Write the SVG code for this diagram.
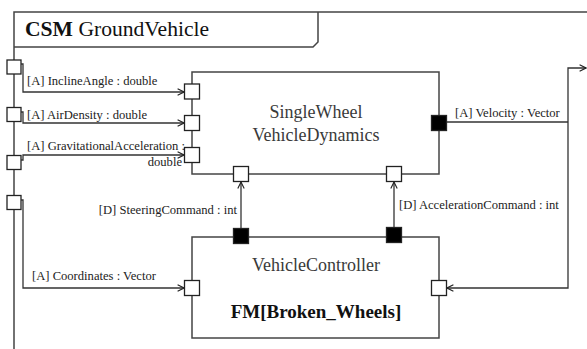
<svg xmlns="http://www.w3.org/2000/svg" width="587" height="349" viewBox="0 0 587 349" font-family="Liberation Serif">
  <defs>
    <marker id="open" viewBox="0 0 10 10" refX="9" refY="5" markerWidth="8" markerHeight="8" markerUnits="userSpaceOnUse" orient="auto">
      <path d="M1,1 L9,5 L1,9" fill="none" stroke="#222" stroke-width="1.4"/>
    </marker>
  </defs>
  <style>
    .frame { fill: none; stroke: #444; stroke-width: 1.5; }
    .box { fill: #fff; stroke: #444; stroke-width: 1.5; }
    .port { fill: #fff; stroke: #222; stroke-width: 1.3; }
    .port.out { fill: #000; }
    .wire { fill: none; stroke: #333; stroke-width: 1.3; }
    .lbl { font-size: 12.6px; fill: #222; }
    .name { font-size: 18px; fill: #3a3a3a; text-anchor: middle; }
    .fm { font-size: 19px; font-weight: bold; fill: #111; text-anchor: middle; }
    .title { font-size: 21.6px; fill: #111; }
  </style>
  <rect width="587" height="349" fill="#fff"/>

  <!-- CSM frame with name tab -->
  <g id="frame" font-family="Liberation Serif">
    <path class="frame" d="M14,349 V12 H587"/>
    <path class="frame" d="M14,47 H313 L318,42 V12"/>
    <text class="title" x="25" y="36"><tspan font-weight="bold">CSM</tspan> GroundVehicle</text>
    <rect class="port" x="7" y="60" width="14" height="14"/>
    <rect class="port" x="7" y="107.5" width="14" height="14"/>
    <rect class="port" x="7" y="155.5" width="14" height="14"/>
    <rect class="port" x="7" y="195.5" width="14" height="14"/>
  </g>

  <!-- connectors -->
  <g id="connectors" font-family="Liberation Serif">
    <path class="wire" d="M21,64 H23 V92 H184" marker-end="url(#open)"/>
    <path class="wire" d="M21,112 H23 V123 H184" marker-end="url(#open)"/>
    <path class="wire" d="M21,160 H23 V155 H184" marker-end="url(#open)"/>
    <path class="wire" d="M21,200 H23 V288 H184" marker-end="url(#open)"/>
    <path class="wire" d="M241,228 V182" marker-end="url(#open)"/>
    <path class="wire" d="M394,228 V182" marker-end="url(#open)"/>
    <path class="wire" d="M447,122 H568"/>
    <path class="wire" d="M568,122 V68 H586" marker-end="url(#open)"/>
    <path class="wire" d="M568,122 V288 H447" marker-end="url(#open)"/>

    <text class="lbl" x="27" y="85">[A] InclineAngle : double</text>
    <text class="lbl" x="27" y="119">[A] AirDensity : double</text>
    <text class="lbl" x="27" y="150">[A] GravitationalAcceleration :</text>
    <text class="lbl" x="182" y="166" text-anchor="end">double</text>
    <text class="lbl" x="32" y="280">[A] Coordinates : Vector</text>
    <text class="lbl" x="237" y="214" text-anchor="end">[D] SteeringCommand : int</text>
    <text class="lbl" x="399" y="209">[D] AccelerationCommand : int</text>
    <text class="lbl" x="455" y="117">[A] Velocity : Vector</text>
  </g>

  <!-- SingleWheel VehicleDynamics block -->
  <g id="dynamics" font-family="Liberation Serif">
    <rect class="box" x="192" y="72" width="247" height="102"/>
    <text class="name" x="316" y="118">SingleWheel</text>
    <text class="name" x="316" y="141">VehicleDynamics</text>
    <rect class="port" x="184.5" y="84" width="15" height="15"/>
    <rect class="port" x="184.5" y="115.5" width="15" height="15"/>
    <rect class="port" x="184.5" y="147.5" width="15" height="15"/>
    <rect class="port" x="233.5" y="166.5" width="15" height="15"/>
    <rect class="port" x="386.5" y="166.5" width="15" height="15"/>
    <rect class="port out" x="431.5" y="115.5" width="15" height="15"/>
  </g>

  <!-- VehicleController block -->
  <g id="controller" font-family="Liberation Serif">
    <rect class="box" x="192" y="237" width="247" height="101"/>
    <text class="name" x="316" y="271">VehicleController</text>
    <text class="fm" x="316" y="318">FM[Broken_Wheels]</text>
    <rect class="port" x="184.5" y="280.5" width="15" height="15"/>
    <rect class="port" x="431.5" y="280.5" width="15" height="15"/>
    <rect class="port out" x="233.5" y="228.5" width="15" height="15"/>
    <rect class="port out" x="386.5" y="227.5" width="15" height="15"/>
  </g>
</svg>
